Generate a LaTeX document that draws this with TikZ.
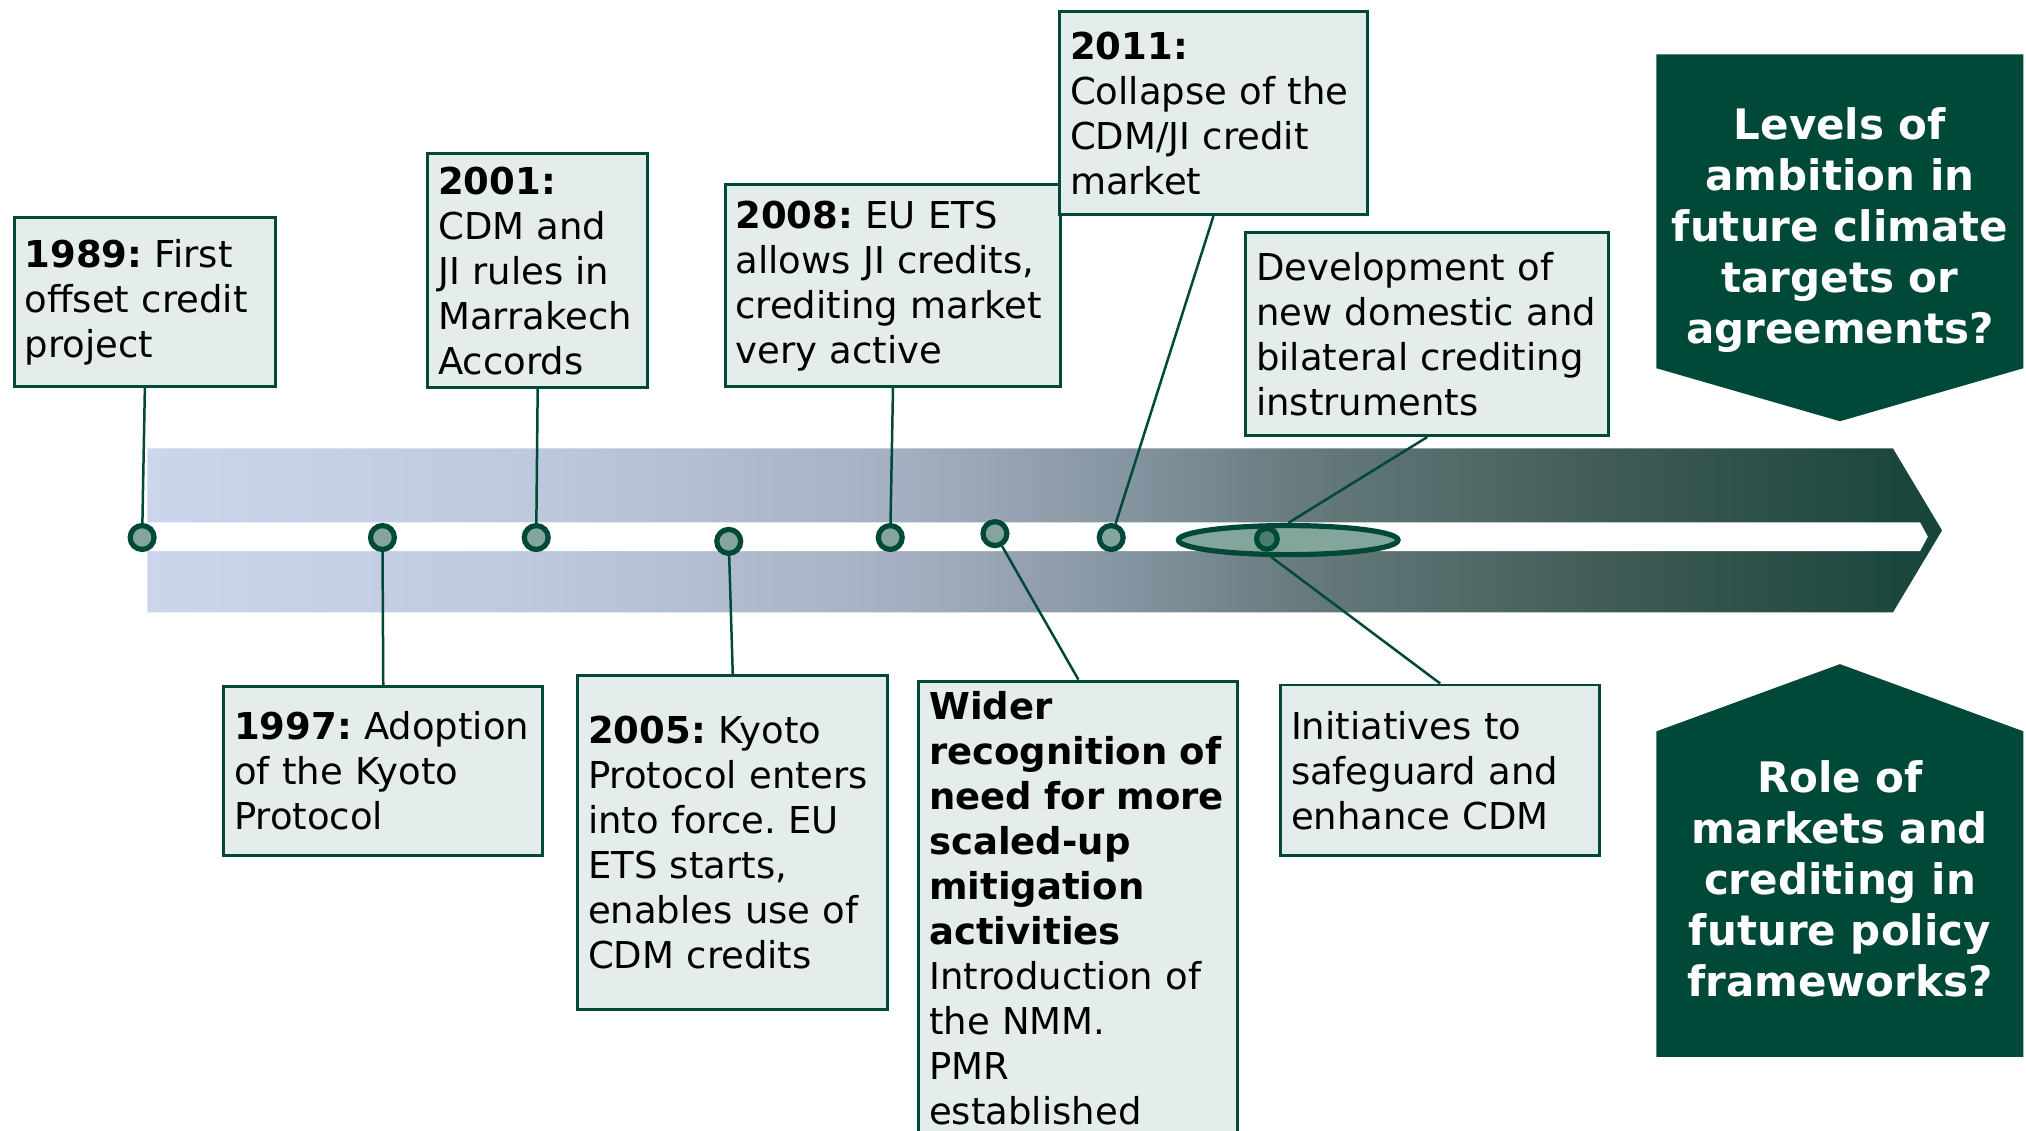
\documentclass[tikz,border=0pt]{standalone}
\usepackage{fontspec}
\setmainfont{DejaVu Sans}
\usepackage{tikz}
\usetikzlibrary{shapes.geometric}

\definecolor{pine}{HTML}{004838}
\definecolor{boxfill}{HTML}{E5ECEC}
\definecolor{dotfill}{HTML}{84A59B}
\definecolor{dotdark}{HTML}{4C7C70}
\definecolor{bandA}{HTML}{CBD6EC}
\definecolor{bandB}{HTML}{BFCADF}
\definecolor{bandC}{HTML}{A6B2C3}
\definecolor{bandD}{HTML}{8796A3}
\definecolor{bandE}{HTML}{687B7E}
\definecolor{bandF}{HTML}{3F5A55}
\definecolor{bandG}{HTML}{16443A}

% light blue on the left, dark green at the tip
\pgfdeclarehorizontalshading{band}{100bp}{color(0bp)=(bandA); color(25bp)=(bandA);
  color(35bp)=(bandB); color(45.5bp)=(bandC); color(52bp)=(bandD); color(57bp)=(bandE);
  color(66bp)=(bandF); color(75bp)=(bandG); color(100bp)=(bandG)}

\tikzset{
  event/.style={draw=pine, fill=boxfill, line width=1.3pt, anchor=north west,
    align=left, inner xsep=0.16cm, inner ysep=0.2cm,
    font=\fontsize{16.3}{19.8}\selectfont},
  stem/.style={draw=pine, line width=1.1pt},
  dot/.style={circle, draw=pine, fill=dotfill, line width=2.3pt, inner sep=0pt,
    minimum size=0.37cm},
  question/.style={text=white, align=center,
    font=\fontsize{18.5}{22.5}\selectfont\bfseries}
}

\begin{document}
\begin{tikzpicture}[x=0.02cm, y=-0.02cm]
\useasboundingbox (0,0) rectangle (1568,875);

% the time line
\shade[shading=band] (114,347) -- (1465,347) -- (1503,410.5) -- (1465,474) -- (114,474) -- cycle;
\fill[white] (100,404.3) -- (1486,404.3) -- (1492,415.4) -- (1486,426.5) -- (100,426.5) -- cycle;

\node[ellipse, draw=pine, fill=dotfill, line width=2.3pt, inner sep=0pt,
  minimum width=3.4cm, minimum height=0.45cm] (ell) at (997,418) {};

\node[dot] (d1989) at (110,416) {};
\node[dot] (d1997) at (296,416) {};
\node[dot] (d2001) at (415,416) {};
\node[dot] (d2005) at (564,419) {};
\node[dot] (d2008) at (689,416) {};
\node[dot] (dwider) at (770,413) {};
\node[dot] (d2011) at (860,416) {};
\node[dot, fill=dotdark, minimum size=0.32cm] (dnow) at (980.5,417) {};

%-------------------------------------
% events above the line
\node[event, text width=3.72cm, minimum height=2.62cm] (b1989) at (10,167)
  {\textbf{1989:}~First\\ offset~credit\\ project};
\node[event, text width=3.08cm, minimum height=3.60cm] (b2001) at (330,118)
  {\textbf{2001:}\\ CDM~and\\ JI~rules~in\\ Marrakech\\ Accords};
\node[event, text width=4.88cm, minimum height=3.12cm] (b2008) at (560,142)
  {\textbf{2008:}~EU~ETS\\ allows~JI~credits,\\ crediting~market\\ very~active};
\node[event, text width=4.44cm, minimum height=3.14cm] (b2011) at (819,8)
  {\textbf{2011:}\\ Collapse~of~the\\ CDM/JI~credit\\ market};
\node[event, text width=5.30cm, minimum height=3.14cm] (bdev) at (963,179)
  {Development~of\\ new~domestic~and\\ bilateral~crediting\\ instruments};

% events below the line
\node[event, text width=4.62cm, minimum height=2.62cm] (b1997) at (172,530)
  {\textbf{1997:}~Adoption\\ of~the~Kyoto\\ Protocol};
\node[event, text width=4.48cm, minimum height=5.16cm] (b2005) at (446,522)
  {\textbf{2005:}~Kyoto\\ Protocol~enters\\ into~force.~EU\\ ETS~starts,\\ enables~use~of\\ CDM~credits};
\node[event, text width=4.62cm, inner ysep=0.16cm] (bwider) at (710,526)
  {\textbf{Wider}\\ \textbf{recognition~of}\\ \textbf{need~for~more}\\ \textbf{scaled-up}\\
   \textbf{mitigation}\\ \textbf{activities}\\ Introduction~of\\ the~NMM.\\ PMR\\ established};
\node[event, text width=4.62cm, minimum height=2.64cm] (binit) at (990,529)
  {Initiatives~to\\ safeguard~and\\ enhance~CDM};

\draw[stem] (d1989) -- (b1989.south);
\draw[stem] (d2001) -- (b2001.south);
\draw[stem] (d2008) -- (b2008.south);
\draw[stem] (d2011) -- (b2011.south);
\draw[stem] (ell.north) -- (bdev.south);
\draw[stem] (d1997) -- (b1997.north);
\draw[stem] (d2005) -- (b2005.north);
\draw[stem] (dwider) -- (bwider.north);
\draw[stem] (ell.225) -- (binit.north);

%-------------------------------------
% open questions on the right
\fill[pine] (1282,42) -- (1566,42) -- (1566,285) -- (1424,326) -- (1282,285) -- cycle;
\node[question] (qlevels) at (1424,178)
  {Levels of\\ ambition in\\ future climate\\ targets or\\ agreements?};
\fill[pine] (1424,514) -- (1566,566) -- (1566,818) -- (1282,818) -- (1282,566) -- cycle;
\node[question] (qrole) at (1424,680)
  {Role of\\ markets and\\ crediting in\\ future policy\\ frameworks?};
\end{tikzpicture}
\end{document}
